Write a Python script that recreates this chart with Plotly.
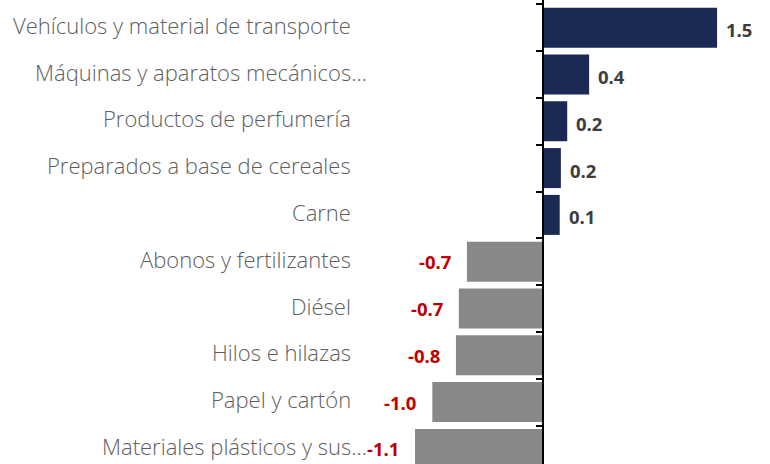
import plotly.graph_objects as go

# Contribution by product group (percentage points)
categories = [
    "Vehículos y material de transporte",
    "Máquinas y aparatos mecánicos...",
    "Productos de perfumería",
    "Preparados a base de cereales",
    "Carne",
    "Abonos y fertilizantes",
    "Diésel",
    "Hilos e hilazas",
    "Papel y cartón",
    "Materiales plásticos y sus...",
]
values = [1.51, 0.40, 0.21, 0.155, 0.145, -0.66, -0.73, -0.755, -0.96, -1.11]

W, H = 770, 464
AXIS_PX = 543          # horizontal pixel of the zero line
PX_PER_UNIT = 115.3
ROW_PX = 46.8
TOP_PX = 4.3

NAVY = "#1b2954"
GREY = "#888888"
POS_TXT = "#3d3d3d"
NEG_TXT = "#c00000"

colors = [NAVY if v >= 0 else GREY for v in values]

fig = go.Figure(
    go.Bar(
        x=values,
        y=categories,
        orientation="h",
        marker=dict(color=colors, line=dict(width=0)),
        hoverinfo="skip",
    )
)

annotations = []
# category names in a right-aligned column left of the bars
for cat in categories:
    shift = 16 if cat.endswith("...") else 0
    annotations.append(dict(
        x=353 / W, xref="paper", y=cat, yref="y",
        text=cat, showarrow=False, xanchor="right", yanchor="middle",
        xshift=shift, yshift=3,
        font=dict(family="Open Sans", size=22, weight=300, color="#5e5e5e"),
    ))
# value labels next to each bar end
for cat, v in zip(categories, values):
    pos = v >= 0
    annotations.append(dict(
        x=v, xref="x", y=cat, yref="y",
        text=f"<b>{v:.1f}</b>", showarrow=False,
        xanchor="left" if pos else "right", yanchor="middle",
        xshift=7 if pos else -14, yshift=-2 if pos else 0,
        font=dict(family="Open Sans", size=18.5, color=POS_TXT if pos else NEG_TXT),
    ))

y_top = -0.5 - TOP_PX / ROW_PX
y_bottom = y_top + H / ROW_PX

fig.update_layout(
    width=W, height=H,
    margin=dict(l=0, r=0, t=0, b=0),
    paper_bgcolor="white", plot_bgcolor="white",
    bargap=0.145,
    showlegend=False,
    xaxis=dict(
        range=[-AXIS_PX / PX_PER_UNIT, (W - AXIS_PX) / PX_PER_UNIT],
        visible=False, fixedrange=True,
    ),
    yaxis=dict(
        type="category",
        categoryorder="array", categoryarray=categories,
        range=[y_bottom, y_top],
        anchor="free", position=AXIS_PX / W,
        showline=True, linecolor="black", linewidth=2,
        ticks="outside", tickson="boundaries", ticklen=6, tickwidth=2, tickcolor="black",
        showticklabels=False, showgrid=False, zeroline=False, fixedrange=True,
    ),
    annotations=annotations,
)

fig.write_html("out.html")
